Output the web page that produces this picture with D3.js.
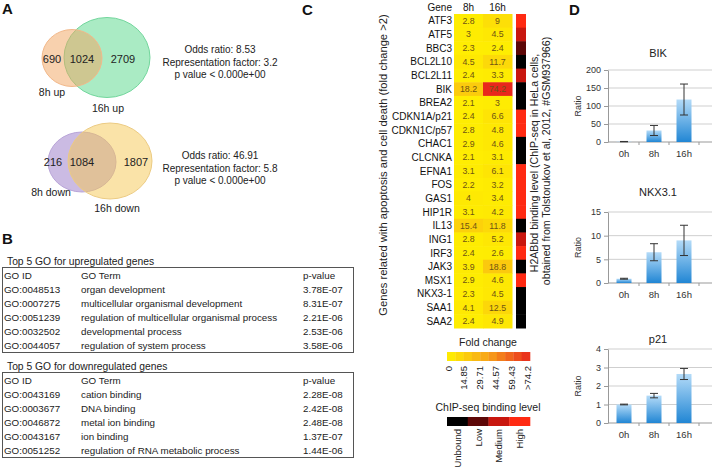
<!DOCTYPE html>
<html>
<head>
<meta charset="utf-8">
<script src="https://cdn.jsdelivr.net/npm/d3@7"></script>
<style>
body { margin: 0; background: #fff; }
svg { display: block; font-family: "Liberation Sans", Arial, sans-serif; }
</style>
</head>
<body>
<div class="main"></div>
<script>
// ---- panel A: venn counts ----
const vennUpCounts = [690, 1024, 2709];
const vennUpNames = ["8h up", "16h up"];
const vennUpStats = ["Odds ratio: 8.53", "Representation factor: 3.2", "p value < 0.000e+00"];
const vennDownCounts = [216, 1084, 1807];
const vennDownNames = ["8h down", "16h down"];
const vennDownStats = ["Odds ratio: 46.91", "Representation factor: 5.8", "p value < 0.000e+00"];

// ---- panel B: GO tables ----
const goHeader = ["GO ID", "GO Term", "p-value"];
const goUpIds = ["GO:0048513", "GO:0007275", "GO:0051239", "GO:0032502", "GO:0044057"];
const goUpTerms = ["organ development", "multicellular organismal development",
  "regulation of multicellular organismal process", "developmental process",
  "regulation of system process"];
const goUpP = ["3.78E-07", "8.31E-07", "2.21E-06", "2.53E-06", "3.58E-06"];
const goDownIds = ["GO:0043169", "GO:0003677", "GO:0046872", "GO:0043167", "GO:0051252"];
const goDownTerms = ["cation binding", "DNA binding", "metal ion binding", "ion binding",
  "regulation of RNA metabolic process"];
const goDownP = ["2.28E-08", "2.42E-08", "2.48E-08", "1.37E-07", "1.44E-06"];

// ---- panel C: heatmap ----
const genes = ["ATF3", "ATF5", "BBC3", "BCL2L10", "BCL2L11", "BIK", "BREA2", "CDKN1A/p21",
  "CDKN1C/p57", "CHAC1", "CLCNKA", "EFNA1", "FOS", "GAS1", "HIP1R", "IL13", "ING1", "IRF3",
  "JAK3", "MSX1", "NKX3-1", "SAA1", "SAA2"];
const fc8h = [2.8, 3, 2.3, 4.5, 2.4, 18.2, 2.1, 2.4, 2.8, 2.9, 2.1, 3.1, 2.2, 4, 3.1, 15.4,
  2.8, 2.4, 3.9, 2.9, 2.3, 4.1, 2.4];
const fc16h = [9, 4.5, 2.4, 11.7, 3.3, 74.2, 3, 6.6, 4.8, 4.6, 3.1, 6.1, 3.2, 3.4, 4.2, 11.8,
  5.2, 2.6, 18.8, 4.6, 4.5, 12.5, 4.9];
// 0 unbound, 1 low, 2 medium, 3 high
const chipLevel = [3, 2, 1, 0, 2, 0, 0, 3, 3, 0, 0, 3, 3, 3, 3, 0, 2, 3, 0, 3, 0, 0, 0];
const heatTimes = ["8h", "16h"];
const foldTicks = [0, 14.85, 29.71, 44.57, 59.43, 74.2];
const foldTickLabels = ["0", "14.85", "29.71", "44.57", "59.43", ">74.2"];
const chipNames = ["Unbound", "Low", "Medium", "High"];

// ---- panel D: qPCR ----
const qpcrTimes = ["0h", "8h", "16h"];
const bikMean = [1, 32, 118];
const bikErr = [0.5, 14, 43];
const nkxMean = [0.9, 6.5, 9.0];
const nkxErr = [0.1, 1.8, 3.2];
const p21Mean = [1.0, 1.48, 2.65];
const p21Err = [0.02, 0.12, 0.3];

const w = 713, h = 476;
const svg = d3.select(".main").append("svg").attr("width", w).attr("height", h);
svg.append("rect").attr("width", w).attr("height", h).attr("fill", "#fff");

function panelLabel(x, y, t) {
  svg.append("text").attr("x", x).attr("y", y).attr("font-size", "15px")
    .attr("font-weight", "bold").attr("fill", "#111").text(t);
}
panelLabel(2, 14, "A");
panelLabel(2, 244, "B");
panelLabel(302, 15, "C");
panelLabel(569, 15, "D");

// ---------- A ----------
function venn(cfg, counts, names, stats) {
  // bottom ellipse (fully opaque), then top one translucent
  svg.append("ellipse").attr("cx", cfg.b[0]).attr("cy", cfg.b[1]).attr("rx", cfg.b[2]).attr("ry", cfg.b[3])
    .attr("fill", cfg.bFill).attr("stroke", cfg.bStroke);
  svg.append("ellipse").attr("cx", cfg.a[0]).attr("cy", cfg.a[1]).attr("rx", cfg.a[2]).attr("ry", cfg.a[3])
    .attr("fill", cfg.aFill).attr("fill-opacity", cfg.aOp).attr("stroke", cfg.aStroke);
  svg.selectAll(null).data(counts).enter().append("text")
    .attr("x", (d, i) => cfg.numX[i]).attr("y", cfg.numY)
    .attr("text-anchor", "middle").attr("font-size", "11px").attr("fill", "#222")
    .text(d => d);
  svg.selectAll(null).data(names).enter().append("text")
    .attr("x", (d, i) => cfg.nameX[i]).attr("y", (d, i) => cfg.nameY[i])
    .attr("text-anchor", "middle").attr("font-size", "10.5px").attr("fill", "#222")
    .text(d => d);
  svg.selectAll(null).data(stats).enter().append("text")
    .attr("x", 220).attr("y", (d, i) => cfg.statY + i * 12.5)
    .attr("text-anchor", "middle").attr("font-size", "10px").attr("fill", "#222")
    .text(d => d);
}

venn({
  a: [72, 58, 30, 28.5], aFill: "#f2a35e", aOp: 0.5, aStroke: "#f2b88a",
  b: [107, 57.5, 43, 40], bFill: "#aaebc4", bStroke: "#72d69c",
  numX: [52, 82, 123], numY: 63, nameX: [52, 108], nameY: [96, 112], statY: 53
}, vennUpCounts, vennUpNames, vennUpStats);

venn({
  b: [82, 162, 34, 30], bFill: "#cbbbe3", bStroke: "#b9a5d8",
  a: [110, 161, 42, 38], aFill: "#f6c852", aOp: 0.5, aStroke: "#eccb82",
  numX: [53, 82, 136], numY: 166, nameX: [51, 117], nameY: [196, 212], statY: 159
}, vennDownCounts, vennDownNames, vennDownStats);

// ---------- B ----------
function goTable(top, title, ids, terms, pvals) {
  const rowH = 14;
  const rows = [goHeader].concat(ids.map((d, i) => [d, terms[i], pvals[i]]));
  const y = d3.scaleBand().domain(d3.range(rows.length)).range([top, top + rows.length * rowH]);
  const colX = [4, 81, 303];
  svg.append("text").attr("x", 7).attr("y", top - 3).attr("font-size", "10.3px").attr("fill", "#222").text(title);
  svg.append("rect").attr("x", 2.5).attr("y", top - 0.5).attr("width", 351)
    .attr("height", rows.length * rowH + 1).attr("fill", "none").attr("stroke", "#555");
  rows.forEach((r, i) => {
    r.forEach((c, j) => {
      svg.append("text").attr("x", colX[j]).attr("y", y(i) + y.bandwidth() / 2 + 3.6)
        .attr("font-size", "9.8px").attr("fill", "#222").text(c);
    });
  });
}
goTable(268, "Top 5 GO for upregulated genes", goUpIds, goUpTerms, goUpP);
goTable(373, "Top 5 GO for downregulated genes", goDownIds, goDownTerms, goDownP);

// ---------- C ----------
const yGene = d3.scaleBand().domain(genes).range([14, 328]);
const xTime = d3.scaleBand().domain(heatTimes).range([454, 512]);
const fcColor = d3.scaleLinear().domain([0, 37.1, 74.2])
  .range(["#fff200", "#f7a21b", "#e8281c"]).clamp(true);
const chipColor = d3.scaleOrdinal().domain([0, 1, 2, 3])
  .range(["#000000", "#5c0707", "#c8170f", "#ff2a12"]);

const heatData = [];
genes.forEach((g, i) => {
  heatData.push({ gene: g, time: "8h", v: fc8h[i] });
  heatData.push({ gene: g, time: "16h", v: fc16h[i] });
});

svg.selectAll(".cell").data(heatData).enter().append("rect")
  .attr("class", "cell")
  .attr("x", d => xTime(d.time)).attr("y", d => yGene(d.gene))
  .attr("width", xTime.bandwidth() + 0.5).attr("height", yGene.bandwidth() + 0.5)
  .attr("fill", d => fcColor(d.v));

svg.selectAll(".cellv").data(heatData).enter().append("text")
  .attr("x", d => xTime(d.time) + xTime.bandwidth() / 2)
  .attr("y", d => yGene(d.gene) + yGene.bandwidth() / 2 + 3)
  .attr("text-anchor", "middle").attr("font-size", "8.8px").attr("fill", "#6f5413")
  .text(d => d.v);

svg.selectAll(".chip").data(genes).enter().append("rect")
  .attr("x", 516).attr("y", d => yGene(d))
  .attr("width", 10).attr("height", yGene.bandwidth() + 0.5)
  .attr("fill", (d, i) => chipColor(chipLevel[i]));

svg.selectAll(".gname").data(genes).enter().append("text")
  .attr("x", 452).attr("y", d => yGene(d) + yGene.bandwidth() / 2 + 3.6)
  .attr("text-anchor", "end").attr("font-size", "10px").attr("fill", "#111")
  .text(d => d);

svg.append("text").attr("x", 452).attr("y", 11).attr("text-anchor", "end")
  .attr("font-size", "10px").attr("fill", "#111").text("Gene");
svg.selectAll(".thead").data(heatTimes).enter().append("text")
  .attr("x", d => xTime(d) + xTime.bandwidth() / 2).attr("y", 11)
  .attr("text-anchor", "middle").attr("font-size", "10px").attr("fill", "#111").text(d => d);

svg.append("text").attr("transform", "translate(387,165) rotate(-90)")
  .attr("text-anchor", "middle").attr("font-size", "11.2px").attr("fill", "#222")
  .text("Genes related with apoptosis and cell death (fold change >2)");
svg.append("text").attr("transform", "translate(538,163) rotate(-90)")
  .attr("text-anchor", "middle").attr("font-size", "10.6px").attr("fill", "#222")
  .text("H2ABbd binding level (ChIP-seq in HeLa cells,");
svg.append("text").attr("transform", "translate(550,161) rotate(-90)")
  .attr("text-anchor", "middle").attr("font-size", "10.6px").attr("fill", "#222")
  .text("obtained from Tolstorukov et al, 2012, #GSM937966)");

// fold change legend
svg.append("text").attr("x", 488).attr("y", 346).attr("text-anchor", "middle")
  .attr("font-size", "10.5px").attr("fill", "#222").text("Fold change");
const legX = d3.scaleLinear().domain([0, 74.2]).range([448, 527]);
const legSteps = d3.range(10);
const stepW = 83 / legSteps.length;
svg.selectAll(".legstep").data(legSteps).enter().append("rect")
  .attr("x", d => 447 + d * stepW).attr("y", 352)
  .attr("width", stepW + 0.3).attr("height", 9)
  .attr("fill", d => fcColor((d + 0.5) / legSteps.length * 74.2));
svg.selectAll(".legtick").data(foldTicks).enter().append("text")
  .attr("transform", d => "translate(" + (legX(d) + 3.5) + ",366) rotate(-90)")
  .attr("text-anchor", "end").attr("font-size", "9.5px").attr("fill", "#222")
  .text((d, i) => foldTickLabels[i]);

// chip legend
svg.append("text").attr("x", 488).attr("y", 411).attr("text-anchor", "middle")
  .attr("font-size", "10.5px").attr("fill", "#222").text("ChIP-seq binding level");
const chipX = d3.scaleBand().domain(chipNames).range([447, 530]);
svg.selectAll(".chipleg").data(chipNames).enter().append("rect")
  .attr("x", d => chipX(d)).attr("y", 417)
  .attr("width", chipX.bandwidth() + 0.3).attr("height", 9)
  .attr("fill", (d, i) => chipColor(i));
svg.selectAll(".chiplab").data(chipNames).enter().append("text")
  .attr("transform", d => "translate(" + (chipX(d) + chipX.bandwidth() / 2 + 3.5) + ",429) rotate(-90)")
  .attr("text-anchor", "end").attr("font-size", "9.5px").attr("fill", "#222")
  .text(d => d);

// ---------- D ----------
const defs = svg.append("defs");
const grad = defs.append("linearGradient").attr("id", "barGrad")
  .attr("x1", 0).attr("y1", 0).attr("x2", 0).attr("y2", 1);
grad.append("stop").attr("offset", "0%").attr("stop-color", "#b4dbf8");
grad.append("stop").attr("offset", "100%").attr("stop-color", "#2186d4");

function barChart(title, titleY, top, bottom, yMax, means, errs) {
  const x = d3.scaleBand().domain(qpcrTimes).range([609, 699]).paddingInner(0.5).paddingOuter(0.25);
  const y = d3.scaleLinear().domain([0, yMax]).range([bottom, top]);
  const g = svg.append("g");

  g.selectAll(".grid").data(y.ticks(4).filter(d => d > 0)).enter().append("line")
    .attr("x1", 608).attr("x2", 712).attr("y1", d => y(d)).attr("y2", d => y(d))
    .attr("stroke", "#cfcfcf");

  const yAxis = d3.axisLeft(y).ticks(4).tickSize(4).tickSizeOuter(0);
  const ya = g.append("g").attr("transform", "translate(608,0)").call(yAxis);
  ya.select(".domain").attr("stroke", "#999");
  ya.selectAll(".tick line").attr("stroke", "#999");
  ya.selectAll("text").attr("font-family", "Liberation Sans, Arial, sans-serif")
    .attr("font-size", "9px").attr("fill", "#333");

  g.append("line").attr("x1", 608).attr("x2", 712).attr("y1", y(0)).attr("y2", y(0)).attr("stroke", "#999");
  g.selectAll(".xsep").data(qpcrTimes).enter().append("line")
    .attr("x1", d => x(d) + x.bandwidth() + x.step() * 0.25)
    .attr("x2", d => x(d) + x.bandwidth() + x.step() * 0.25)
    .attr("y1", y(0)).attr("y2", y(0) + 3).attr("stroke", "#999");
  g.selectAll(".xlab").data(qpcrTimes).enter().append("text")
    .attr("x", d => x(d) + x.bandwidth() / 2).attr("y", y(0) + 15)
    .attr("text-anchor", "middle").attr("font-size", "9.5px").attr("fill", "#333").text(d => d);

  g.selectAll(".bar").data(means).enter().append("rect")
    .attr("x", (d, i) => x(qpcrTimes[i])).attr("y", d => y(d))
    .attr("width", x.bandwidth()).attr("height", d => y(0) - y(d))
    .attr("fill", "url(#barGrad)");

  means.forEach((m, i) => {
    const cx = x(qpcrTimes[i]) + x.bandwidth() / 2;
    const lo = y(m - errs[i]), hi = y(m + errs[i]);
    g.append("line").attr("x1", cx).attr("x2", cx).attr("y1", lo).attr("y2", hi).attr("stroke", "#333");
    g.append("line").attr("x1", cx - 4).attr("x2", cx + 4).attr("y1", lo).attr("y2", lo).attr("stroke", "#333");
    g.append("line").attr("x1", cx - 4).attr("x2", cx + 4).attr("y1", hi).attr("y2", hi).attr("stroke", "#333");
  });

  g.append("text").attr("x", 658).attr("y", titleY).attr("text-anchor", "middle")
    .attr("font-size", "11px").attr("fill", "#222").text(title);
  g.append("text").attr("transform", "translate(581," + ((top + bottom) / 2) + ") rotate(-90)")
    .attr("text-anchor", "middle").attr("font-size", "9px").attr("fill", "#333").text("Ratio");
}

barChart("BIK", 57, 70, 142, 200, bikMean, bikErr);
barChart("NKX3.1", 196, 212, 283, 15, nkxMean, nkxErr);
barChart("p21", 343, 349, 423, 4, p21Mean, p21Err);
</script>
</body>
</html>
